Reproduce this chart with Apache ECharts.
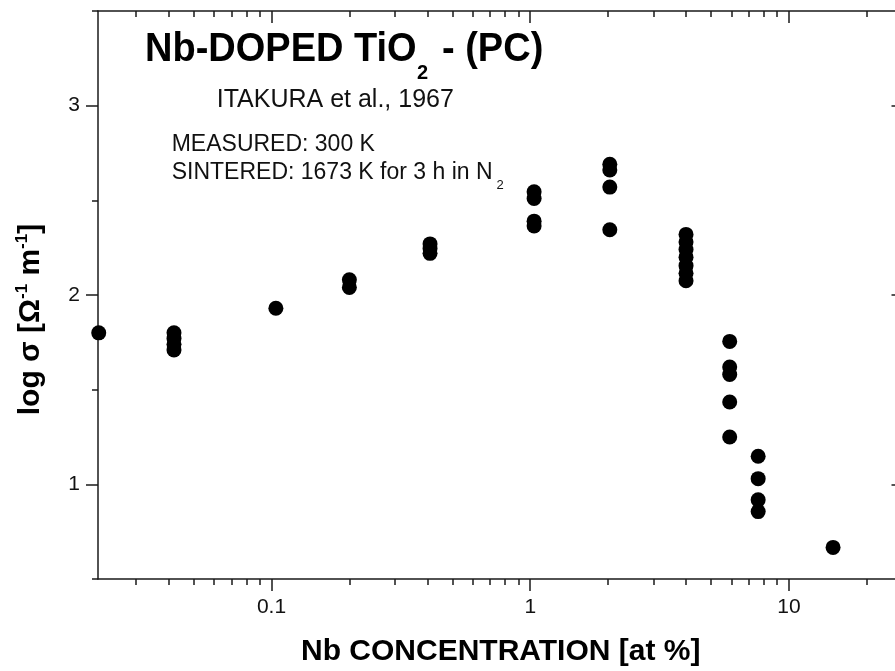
<!DOCTYPE html>
<html>
<head>
<meta charset="utf-8">
<script src="https://cdn.jsdelivr.net/npm/echarts@6/dist/echarts.min.js"></script>
<style>
html,body{margin:0;padding:0;background:#fff;}
#chart{width:895px;height:671px;}
</style>
</head>
<body>
<div id="chart"></div>
<script>
// ---- data ----
const nbConcentration = [
  0.0215,
  0.042, 0.042, 0.042, 0.042,
  0.104,
  0.2, 0.2,
  0.41, 0.41, 0.41,
  1.035, 1.035, 1.035, 1.035,
  2.03, 2.03, 2.03, 2.03,
  4.0, 4.0, 4.0, 4.0, 4.0, 4.0, 4.0,
  5.9, 5.9, 5.9, 5.9, 5.9,
  7.6, 7.6, 7.6, 7.6,
  14.8
];
const logSigma = [
  1.80,
  1.80, 1.77, 1.74, 1.71,
  1.93,
  2.08, 2.04,
  2.27, 2.245, 2.22,
  2.545, 2.51, 2.39, 2.365,
  2.69, 2.66, 2.57, 2.345,
  2.32, 2.28, 2.24, 2.20, 2.155, 2.115, 2.075,
  1.755, 1.62, 1.58, 1.435, 1.25,
  1.148, 1.03, 0.918, 0.856,
  0.667
];
const xMajorTicks = [0.1, 1, 10];
const xMinorTicks = [0.03, 0.04, 0.05, 0.06, 0.07, 0.08, 0.09,
  0.2, 0.3, 0.4, 0.5, 0.6, 0.7, 0.8, 0.9,
  2, 3, 4, 5, 6, 7, 8, 9, 20];
const yMajorTicks = [1, 2, 3];
const yMinorTicks = [0.5, 1.5, 2.5, 3.5];
const xTickLabels = ['0.1', '1', '10'];
const yTickLabels = ['1', '2', '3'];
const xRange = [0.02136, 27.7];
const yRange = [0.5, 3.5];

const FONT = '"Liberation Sans", Arial, Helvetica, sans-serif';
const AX = '#1a1a1a';

const points = nbConcentration.map((c, i) => [c, logSigma[i]]);

function xAxisDef(pos, ticks, len, inside, showLine, showLabel) {
  return {
    type: 'log', gridIndex: 0, position: pos, min: xRange[0], max: xRange[1],
    axisLine: { show: showLine, lineStyle: { color: AX, width: 1.5 } },
    axisTick: { show: true, inside: inside, length: len, customValues: ticks,
      lineStyle: { color: AX, width: 1.5 } },
    axisLabel: showLabel ? {
      show: true, customValues: xMajorTicks, margin: 18, fontSize: 21,
      fontFamily: FONT, color: '#111',
      formatter: function (v) {
        const k = xMajorTicks.findIndex(t => Math.abs(Math.log10(t) - Math.log10(v)) < 1e-6);
        return k >= 0 ? xTickLabels[k] : '';
      }
    } : { show: false },
    splitLine: { show: false }, minorTick: { show: false }, minorSplitLine: { show: false }
  };
}
function yAxisDef(pos, ticks, len, inside, showLine, showLabel) {
  return {
    type: 'value', gridIndex: 0, position: pos, min: yRange[0], max: yRange[1], interval: 0.5,
    axisLine: { show: showLine, lineStyle: { color: AX, width: 1.5 } },
    axisTick: { show: true, inside: inside, length: len, customValues: ticks,
      lineStyle: { color: AX, width: 1.5 } },
    axisLabel: showLabel ? {
      show: true, customValues: yMajorTicks, margin: 18, fontSize: 21,
      fontFamily: FONT, color: '#111',
      formatter: function (v) {
        const k = yMajorTicks.findIndex(t => Math.abs(t - v) < 1e-6);
        return k >= 0 ? yTickLabels[k] : '';
      }
    } : { show: false },
    splitLine: { show: false }
  };
}

const xMain = xAxisDef('bottom', xMajorTicks, 12, false, true, true);
xMain.name = 'Nb CONCENTRATION [at %]';
xMain.nameLocation = 'middle';
xMain.nameGap = 58;
xMain.nameTextStyle = { fontSize: 30, fontWeight: 'bold', fontFamily: FONT, color: '#000' };

const option = {
  animation: false,
  backgroundColor: '#fff',
  grid: { left: 98, top: 11, right: -8.5, bottom: 92, containLabel: false, outerBoundsMode: 'none' },
  xAxis: [
    xMain,
    xAxisDef('bottom', xMinorTicks, 6, false, false, false),
    xAxisDef('top', xMajorTicks, 12, true, true, false),
    xAxisDef('top', xMinorTicks, 6, true, false, false)
  ],
  yAxis: [
    yAxisDef('left', yMajorTicks, 12, false, true, true),
    yAxisDef('left', yMinorTicks, 6, false, false, false),
    yAxisDef('right', yMajorTicks, 12, true, true, false),
    yAxisDef('right', yMinorTicks, 6, true, false, false)
  ],
  series: [{
    type: 'scatter', xAxisIndex: 0, yAxisIndex: 0,
    data: points, symbol: 'circle', symbolSize: 15,
    itemStyle: { color: '#000', opacity: 1 },
    emphasis: { disabled: true }
  }],
  graphic: [
    { type: 'text', x: 145, y: 50, scaleY: 1.06, style: { text: 'Nb-DOPED TiO', font: 'bold 38px ' + FONT, fill: '#000', align: 'left', verticalAlign: 'middle' } },
    { type: 'text', x: 417, y: 73.5, style: { text: '2', font: 'bold 20px ' + FONT, fill: '#000', align: 'left', verticalAlign: 'middle' } },
    { type: 'text', x: 442, y: 50, scaleY: 1.06, style: { text: '- (PC)', font: 'bold 38px ' + FONT, fill: '#000', align: 'left', verticalAlign: 'middle' } },
    { type: 'text', x: 216.7, y: 100, style: { text: 'ITAKURA et al., 1967', font: '25px ' + FONT, fill: '#111', align: 'left', verticalAlign: 'middle' } },
    { type: 'text', x: 171.7, y: 144.2, style: { text: 'MEASURED: 300 K', font: '23px ' + FONT, fill: '#111', align: 'left', verticalAlign: 'middle' } },
    { type: 'text', x: 171.7, y: 172.5, style: { text: 'SINTERED: 1673 K for 3 h in N', font: '23px ' + FONT, fill: '#111', align: 'left', verticalAlign: 'middle' } },
    { type: 'text', x: 496.5, y: 185, style: { text: '2', font: '13px ' + FONT, fill: '#111', align: 'left', verticalAlign: 'middle' } },
    { type: 'text', x: 31, y: 319.5, rotation: Math.PI / 2,
      style: {
        text: '{n|log σ [Ω}{s|-1}{n| m}{s|-1}{n|]}',
        align: 'center', verticalAlign: 'middle', fill: '#000',
        rich: {
          n: { fontSize: 30, fontWeight: 'bold', fontFamily: FONT, fill: '#000', lineHeight: 34 },
          s: { fontSize: 17, fontWeight: 'bold', fontFamily: FONT, fill: '#000', verticalAlign: 'top', lineHeight: 34, padding: [0, 0, 14, 0] }
        }
      }
    }
  ]
};

const chart = echarts.init(document.getElementById('chart'), null, { renderer: 'canvas' });
chart.setOption(option);
</script>
</body>
</html>
